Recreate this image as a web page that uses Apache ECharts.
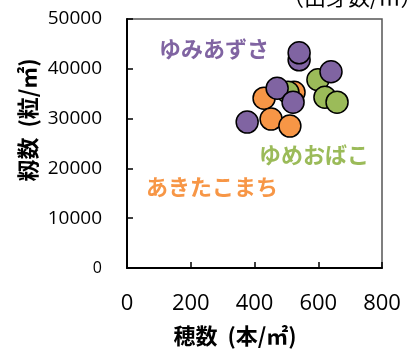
<!DOCTYPE html>
<html>
<head>
<meta charset="utf-8">
<script src="https://cdn.jsdelivr.net/npm/echarts@6/dist/echarts.min.js"></script>
<style>
  html, body { margin: 0; padding: 0; background: #fff; }
  #chart { width: 416px; height: 351px; }
</style>
</head>
<body>
<div id="chart"></div>
<script>
// 穂数 (本/㎡) と 籾数 (粒/㎡) の関係、品種別
const xTicks = [0, 200, 400, 600, 800];
const yTicks = [0, 10000, 20000, 30000, 40000, 50000];

const akitaX = [430, 452, 511, 524];
const akitaY = [34100, 29900, 28500, 35300];

const yumeobakoX = [505, 599, 621, 659];
const yumeobakoY = [35300, 37800, 34300, 33300];

const yumiazusaX = [540, 540, 640, 471, 521, 377];
const yumiazusaY = [41800, 43200, 39400, 36100, 33300, 29300];

const seriesNames = ['あきたこまち', 'ゆめおばこ', 'ゆみあずさ'];
const colors = ['#F79646', '#9BBB59', '#8064A2'];

const zip = (xs, ys) => xs.map((x, i) => [x, ys[i]]);

const jp = '"Noto Sans CJK JP", sans-serif';
const num = '"Open Sans", "Liberation Sans", sans-serif';

const chart = echarts.init(document.getElementById('chart'));

const mkSeries = (name, data, color) => ({
  name: name,
  type: 'scatter',
  data: data,
  symbol: 'circle',
  symbolSize: 22,
  itemStyle: { color: color, borderColor: '#000', borderWidth: 1.5, opacity: 1 },
  emphasis: { disabled: true }
});

chart.setOption({
  animation: false,
  grid: {
    left: 127, right: 34, top: 19, bottom: 83,
    show: true, borderColor: '#555', borderWidth: 1.5
  },
  xAxis: {
    type: 'value',
    min: xTicks[0], max: xTicks[xTicks.length - 1], interval: 200,
    axisLine: { show: true, lineStyle: { color: '#000', width: 2 } },
    axisTick: { show: true, inside: true, length: 6, lineStyle: { color: '#000', width: 1.5 } },
    splitLine: { show: false },
    axisLabel: { margin: 25, fontSize: 22, color: '#000', fontFamily: num }
  },
  yAxis: {
    type: 'value',
    min: yTicks[0], max: yTicks[yTicks.length - 1], interval: 10000,
    axisLine: { show: true, lineStyle: { color: '#000', width: 2 } },
    axisTick: { show: true, inside: true, length: 6, lineStyle: { color: '#000', width: 1.5 } },
    splitLine: { show: false },
    axisLabel: {
      margin: 25, fontSize: 19, color: '#000', fontFamily: num,
      formatter: v => v === 0 ? '{s|0}' : String(v),
      rich: { s: { fontSize: 16, fontFamily: num, color: '#000' } }
    }
  },
  series: [
    mkSeries(seriesNames[0], zip(akitaX, akitaY), colors[0]),
    mkSeries(seriesNames[1], zip(yumeobakoX, yumeobakoY), colors[1]),
    mkSeries(seriesNames[2], zip(yumiazusaX, yumiazusaY), colors[2])
  ],
  graphic: [
    {
      type: 'text', left: 282, top: -14,
      style: { text: '（出芽数/㎡）', fontSize: 22, fontFamily: jp, fill: '#000' }
    },
    {
      type: 'text', x: 214, y: 49,
      style: { text: 'ゆみあずさ', fontSize: 22, fontWeight: 'bold', fontFamily: jp, fill: colors[2], align: 'center', verticalAlign: 'middle' }
    },
    {
      type: 'text', x: 314, y: 155,
      style: { text: 'ゆめおばこ', fontSize: 22, fontWeight: 'bold', fontFamily: jp, fill: colors[1], align: 'center', verticalAlign: 'middle' }
    },
    {
      type: 'text', x: 212, y: 187,
      style: { text: 'あきたこまち', fontSize: 22, fontWeight: 'bold', fontFamily: jp, fill: colors[0], align: 'center', verticalAlign: 'middle' }
    },
    {
      type: 'text', x: 235, y: 336,
      style: { text: '穂数  (本/㎡)', fontSize: 22, fontWeight: 'bold', fontFamily: jp, fill: '#000', align: 'center', verticalAlign: 'middle' }
    },
    {
      type: 'text', x: 28, y: 120, rotation: Math.PI / 2,
      style: { text: '籾数  (粒/㎡)', fontSize: 22, fontWeight: 'bold', fontFamily: jp, fill: '#000', align: 'center', verticalAlign: 'middle' }
    }
  ]
});
</script>
</body>
</html>
